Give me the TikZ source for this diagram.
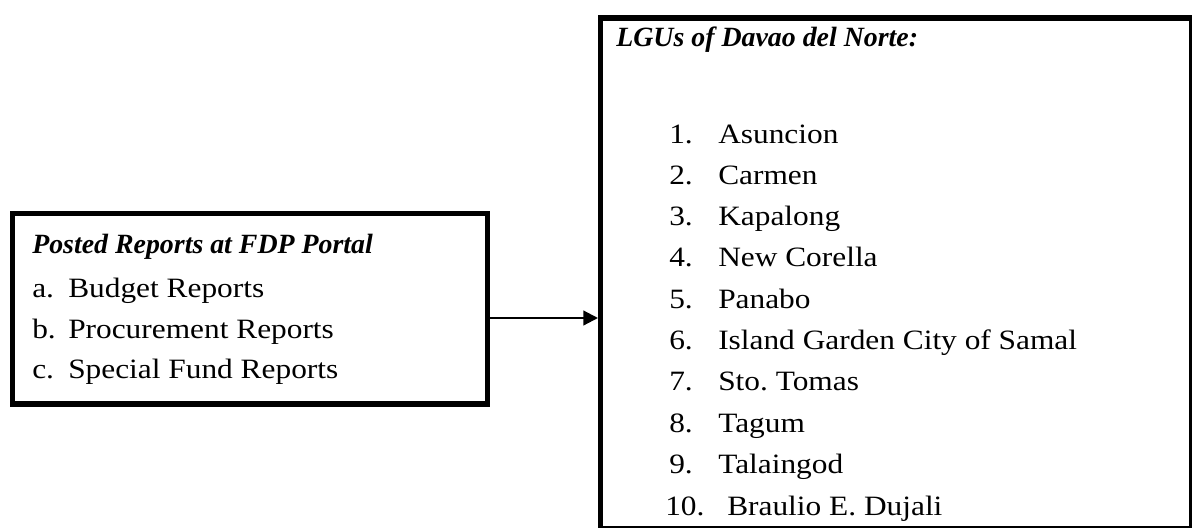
\documentclass[tikz,border=0pt]{standalone}
\usepackage{fontspec}
\setmainfont{Liberation Serif}
\usetikzlibrary{arrows.meta}
\newcommand\widetxt[1]{\scalebox{1.12}[1]{#1}}
\frenchspacing
\begin{document}
\begin{tikzpicture}[x=0.75pt,y=-0.75pt,
  box/.style={draw=black, line width=4.1pt, rectangle, inner sep=0pt, fill=none},
  txt/.style={anchor=base west, inner sep=0pt, font=\fontsize{21}{24}\selectfont},
  ttl/.style={anchor=base west, inner sep=0pt, font=\fontsize{20.9}{24}\selectfont\bfseries\itshape},
  arr/.style={line width=1.6pt, -{Triangle[length=11pt,width=11pt]}}]
\useasboundingbox (0,0) rectangle (1192,528);
\fill[white] (0,0) rectangle (1192,528);
% texts (clipped at bottom like the reference)
\begin{scope}
\clip (0,0) rectangle (1192,523);
\node[ttl] (lt) at (32,253) {Posted Reports at FDP Portal};
\node[txt] (la) at (32,297) {\widetxt{a.}};
\node[txt] (la2) at (68,297) {\widetxt{Budget Reports}};
\node[txt] (lb) at (32,338) {\widetxt{b.}};
\node[txt] (lb2) at (68,338) {\widetxt{Procurement Reports}};
\node[txt] (lc) at (32,378) {\widetxt{c.}};
\node[txt] (lc2) at (68,378) {\widetxt{Special Fund Reports}};
\node[ttl] (rt) at (616,47) {LGUs of Davao del Norte:};
\foreach \n/\t [count=\i from 0] in {1/Asuncion,2/Carmen,3/Kapalong,4/New Corella,5/Panabo,6/Island Garden City of Samal,7/Sto. Tomas,8/Tagum,9/Talaingod}{
  \node[txt] (n\n) at (669,143+41.3*\i) {\widetxt{\n.}};
  \node[txt] (t\n) at (718,143+41.3*\i) {\widetxt{\t}};
}
\node[txt] (n10) at (665,515) {\widetxt{10.}};
\node[txt] (t10) at (727,515) {\widetxt{Braulio E. Dujali}};
\end{scope}
% boxes
\node[box, anchor=north west, minimum width=355.9pt, minimum height=142.9pt] (left) at (10,210.5) {};
\node[box, anchor=north west, minimum width=443.6pt, minimum height=382.5pt] (right) at (598,15.5) {};
% connector
\draw[arr] (left.east |- 0,318) -- (right.west |- 0,318);
\end{tikzpicture}
\end{document}
